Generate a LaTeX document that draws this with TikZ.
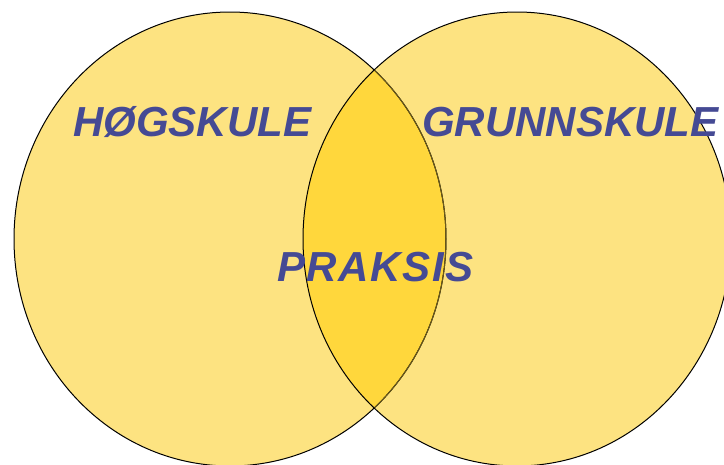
\documentclass[tikz,border=0pt]{standalone}
\usepackage{fontspec}
\usepackage{xcolor}
\newfontfamily\vennfont{Liberation Sans}
\definecolor{vennyellow}{HTML}{FDE381}
\definecolor{venncore}{HTML}{FFD73C}
\definecolor{vennblue}{HTML}{454A94}
\definecolor{venndim}{HTML}{6B5A1A}
\tikzset{
  vennword/.style={inner sep=0pt, text=vennblue, font=\vennfont\bfseries\itshape\fontsize{42}{50}\selectfont},
  vennline/.style={draw=black, line width=1pt}
}
\begin{document}
\begin{tikzpicture}[x=1pt,y=-1pt]
\useasboundingbox (0,0) rectangle (724,464);
\fill [vennyellow] (230,239) ellipse [x radius=216pt, y radius=227pt];
\fill [vennyellow] (517,239) ellipse [x radius=214pt, y radius=227pt];
\begin{scope}
\clip (517,239) ellipse [x radius=214pt, y radius=227pt];
\fill [venncore] (230,239) ellipse [x radius=216pt, y radius=227pt];
\end{scope}
\draw [vennline] (230,239) ellipse [x radius=216pt, y radius=227pt];
\begin{scope}
\clip (517,239) ellipse [x radius=214pt, y radius=227pt];
\draw [vennline, draw=venndim] (230,239) ellipse [x radius=216pt, y radius=227pt];
\end{scope}
\draw [vennline] (517,239) ellipse [x radius=214pt, y radius=227pt];
\node [vennword, anchor=base west] (hogskule) at (73,136) {HØGSKULE};
\node [vennword, anchor=base west] (grunnskule) at (422,136) {GRUNNSKULE};
\node [vennword, anchor=base west] (praksis) at (277,281) {\addfontfeatures{LetterSpace=4}PRAKSIS};
\end{tikzpicture}
\end{document}
